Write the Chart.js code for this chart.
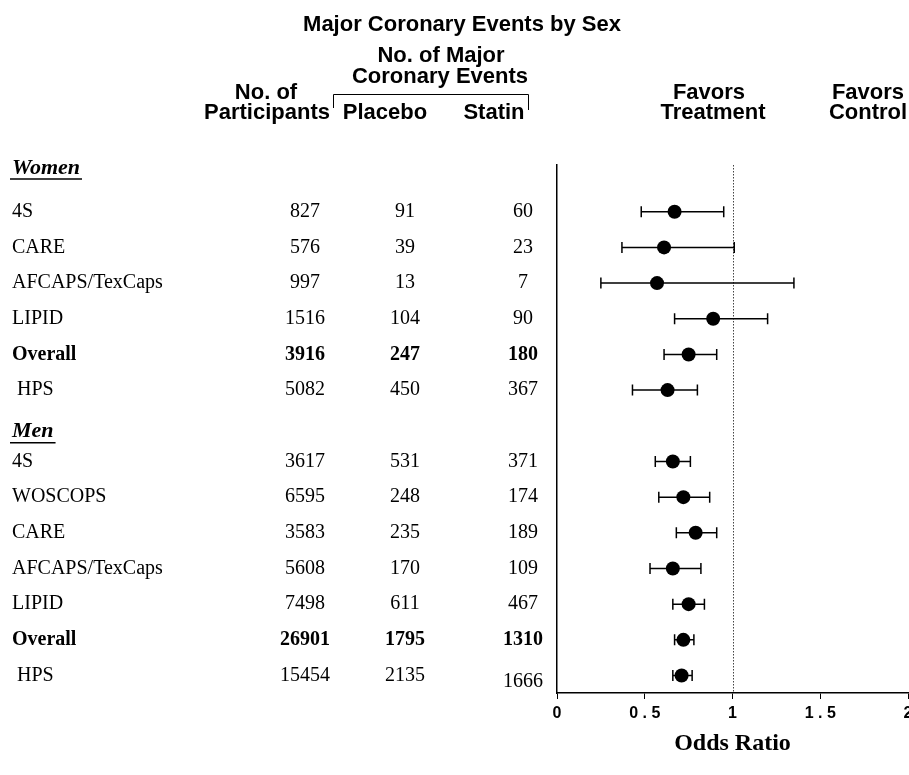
<!DOCTYPE html>
<html>
<head>
<meta charset="utf-8">
<script src="https://cdn.jsdelivr.net/npm/chart.js@4/dist/chart.umd.min.js"></script>
<style>
  html, body { margin: 0; padding: 0; background: #fff; overflow: hidden; }
  #wrap { width: 909px; height: 775px; }
</style>
</head>
<body>
<div id="wrap"><canvas id="myChart" width="909" height="775"></canvas></div>
<script>
// Women
var womenStudies = ['4S', 'CARE', 'AFCAPS/TexCaps', 'LIPID', 'Overall', 'HPS'];
var womenParticipants = [827, 576, 997, 1516, 3916, 5082];
var womenPlacebo = [91, 39, 13, 104, 247, 450];
var womenStatin = [60, 23, 7, 90, 180, 367];
var womenOR = [0.67, 0.61, 0.57, 0.89, 0.75, 0.63];
var womenLow = [0.48, 0.37, 0.25, 0.67, 0.61, 0.43];
var womenHigh = [0.95, 1.01, 1.35, 1.20, 0.91, 0.80];

// Men
var menStudies = ['4S', 'WOSCOPS', 'CARE', 'AFCAPS/TexCaps', 'LIPID', 'Overall', 'HPS'];
var menParticipants = [3617, 6595, 3583, 5608, 7498, 26901, 15454];
var menPlacebo = [531, 248, 235, 170, 611, 1795, 2135];
var menStatin = [371, 174, 189, 109, 467, 1310, 1666];
var menOR = [0.66, 0.72, 0.79, 0.66, 0.75, 0.72, 0.71];
var menLow = [0.56, 0.58, 0.68, 0.53, 0.66, 0.67, 0.66];
var menHigh = [0.76, 0.87, 0.91, 0.82, 0.84, 0.78, 0.77];

var xTicks = [0, 0.5, 1, 1.5, 2];

// one row per line of the table: group headers get their own row
var rows = [];
function addGroup(name, studies, part, plac, stat, or, lo, hi) {
    rows.push({header: name});
    studies.forEach(function(s, i) {
        rows.push({study: s, part: part[i], plac: plac[i], stat: stat[i],
                   or: or[i], lo: lo[i], hi: hi[i], bold: s === 'Overall'});
    });
}
addGroup('Women', womenStudies, womenParticipants, womenPlacebo, womenStatin, womenOR, womenLow, womenHigh);
addGroup('Men', menStudies, menParticipants, menPlacebo, menStatin, menOR, menLow, menHigh);

var points = [];
rows.forEach(function(r, i) {
    if (!r.header) points.push({x: r.or, y: i, lo: r.lo, hi: r.hi});
});

var SERIF = '"Liberation Serif", "Times New Roman", serif';
var SANS = '"Liberation Sans", Arial, sans-serif';

var forestPlugin = {
    id: 'forest',
    beforeDatasetsDraw: function(chart) {
        var ctx = chart.ctx, xs = chart.scales.x, ys = chart.scales.y;
        var area = chart.chartArea;
        ctx.save();
        // dotted line of no effect
        ctx.strokeStyle = '#444';
        ctx.lineWidth = 1;
        ctx.setLineDash([1.5, 1.5]);
        var x1 = Math.round(xs.getPixelForValue(1)) + 0.5;
        ctx.beginPath();
        ctx.moveTo(x1, area.top);
        ctx.lineTo(x1, area.bottom);
        ctx.stroke();
        ctx.setLineDash([]);
        // confidence intervals
        ctx.strokeStyle = '#000';
        ctx.lineWidth = 1.5;
        points.forEach(function(p) {
            var y = ys.getPixelForValue(p.y);
            var a = xs.getPixelForValue(p.lo), b = xs.getPixelForValue(p.hi);
            ctx.beginPath();
            ctx.moveTo(a, y); ctx.lineTo(b, y);
            ctx.moveTo(a, y - 5.5); ctx.lineTo(a, y + 5.5);
            ctx.moveTo(b, y - 5.5); ctx.lineTo(b, y + 5.5);
            ctx.stroke();
        });
        ctx.restore();
    },
    afterDraw: function(chart) {
        var ctx = chart.ctx, ys = chart.scales.y;
        ctx.save();
        ctx.fillStyle = '#000';
        ctx.textBaseline = 'middle';

        // headings
        ctx.font = 'bold 22px ' + SANS;
        ctx.textAlign = 'center';
        ctx.fillText('Major Coronary Events by Sex', 462, 25);
        ctx.fillText('No. of Major', 441, 56);
        ctx.fillText('Coronary Events', 440, 77);
        ctx.fillText('No. of', 266, 93);
        ctx.fillText('Participants', 267, 113);
        ctx.fillText('Placebo', 385, 113);
        ctx.fillText('Statin', 494, 113);
        ctx.fillText('Favors', 709, 93);
        ctx.fillText('Treatment', 713, 113);
        ctx.fillText('Favors', 868, 93);
        ctx.fillText('Control', 868, 113);

        // bracket over the event columns
        ctx.strokeStyle = '#000';
        ctx.lineWidth = 1;
        ctx.beginPath();
        ctx.moveTo(333.5, 108); ctx.lineTo(333.5, 94.5);
        ctx.lineTo(528.5, 94.5); ctx.lineTo(528.5, 110);
        ctx.stroke();

        // table
        rows.forEach(function(r, i) {
            var y = ys.getPixelForValue(i);
            if (r.header) {
                ctx.font = 'italic bold 22px ' + SERIF;
                ctx.textAlign = 'left';
                var ty = i === 0 ? y - 8 : y + 6;
                ctx.fillText(r.header, 12, ty);
                var w = ctx.measureText(r.header).width;
                ctx.lineWidth = 1.5;
                ctx.beginPath();
                ctx.moveTo(10, ty + 11); ctx.lineTo(14 + w, ty + 11);
                ctx.stroke();
                return;
            }
            ctx.font = (r.bold ? 'bold ' : '') + '20px ' + SERIF;
            ctx.textAlign = 'left';
            ctx.fillText(r.study, r.study === 'HPS' ? 17 : 12, y);
            ctx.textAlign = 'center';
            ctx.fillText(String(r.part), 305, y);
            ctx.fillText(String(r.plac), 405, y);
            // the last statin count sits a little low in the source
            ctx.fillText(String(r.stat), 523, i === rows.length - 1 ? y + 6 : y);
        });
        ctx.restore();
    }
};

var ctx = document.getElementById('myChart').getContext('2d');

var chart = new Chart(ctx, {
    type: 'scatter',
    data: {
        datasets: [{
            data: points,
            backgroundColor: '#000',
            borderColor: '#000',
            borderWidth: 0,
            pointRadius: 7,
            pointHoverRadius: 7
        }]
    },
    options: {
        responsive: false,
        animation: false,
        layout: { autoPadding: false, padding: { left: 557, right: 1, top: 165, bottom: 0 } },
        plugins: {
            legend: { display: false },
            tooltip: { enabled: false }
        },
        scales: {
            x: {
                type: 'linear',
                min: 0,
                max: 2,
                afterBuildTicks: function(s) { s.ticks = xTicks.map(function(v) { return {value: v}; }); },
                afterFit: function(s) { s.height = 82; s.paddingLeft = 0; s.paddingRight = 0; },
                ticks: {
                    color: '#000',
                    padding: 5,
                    maxRotation: 0,
                    font: { family: SANS, size: 16, weight: 'bold' },
                    callback: function(v) { return String(v).split('').join(' '); }
                },
                grid: { drawOnChartArea: false, drawTicks: true, tickLength: 6, color: '#000' },
                border: { display: true, color: '#000', width: 1.5 },
                title: {
                    display: true,
                    text: 'Odds Ratio',
                    color: '#000',
                    font: { family: SERIF, size: 24, weight: 'bold' },
                    padding: { top: 0, bottom: 17 }
                }
            },
            y: {
                type: 'linear',
                reverse: true,
                min: -0.31,
                max: 14.49,
                afterFit: function(s) { s.width = 0; s.paddingTop = 0; s.paddingBottom = 0; },
                ticks: { display: false },
                grid: { drawOnChartArea: false, drawTicks: false },
                border: { display: true, color: '#000', width: 1.5 }
            }
        }
    },
    plugins: [forestPlugin]
});
</script>
</body>
</html>
